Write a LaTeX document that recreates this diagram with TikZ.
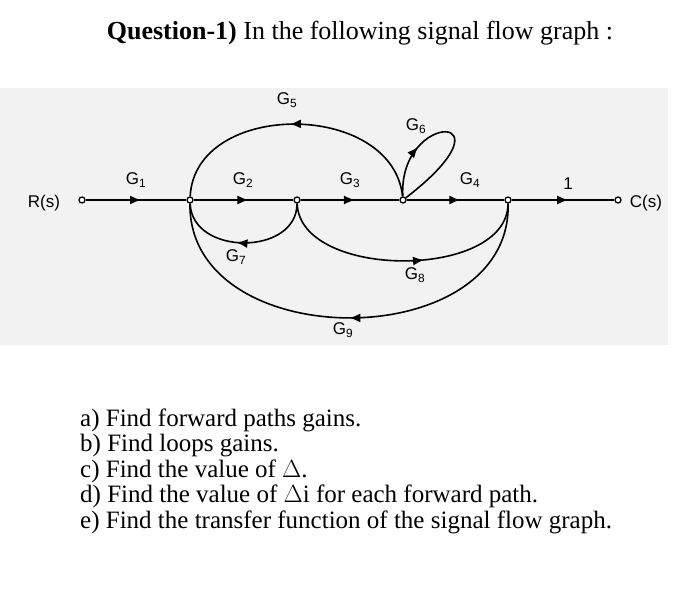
\documentclass[tikz,border=0pt]{standalone}
\usepackage{fontspec}
\setmainfont{Liberation Serif}
\newfontfamily\lsans{Liberation Sans}
\usetikzlibrary{decorations.markings,arrows.meta}
\begin{document}
\begin{tikzpicture}[x=1pt,y=-1pt,
  sig/.style={line width=1.6pt,postaction={decorate},decoration={markings,mark=at position #1 with {\arrow{Latex[length=11pt,width=9pt]}}}},
  sig/.default=0.55,
  nd/.style={circle,draw,line width=1.3pt,fill=white,inner sep=0pt,minimum size=6pt},
  lab/.style={font=\lsans\fontsize{17}{19}\selectfont,inner sep=0pt},
  txt/.style={font=\fontsize{25}{28}\selectfont,anchor=west,inner sep=0pt}]
\useasboundingbox (0,0) rectangle (700,604);
\fill[white] (0,0) rectangle (700,604);
\fill[black!5] (0,88) rectangle (668,345);
\node[font=\fontsize{26}{30}\selectfont,inner sep=0pt] (title) at (360,33) {\textbf{Question-1)} In the following signal flow graph :};
\node[nd] (r) at (82,200) {};
\node[nd] (n1) at (190,200) {};
\node[nd] (n2) at (297,200) {};
\node[nd] (n3) at (403,200) {};
\node[nd] (n4) at (508,200) {};
\node[nd] (c) at (618,200) {};
\draw[sig] (r) -- (n1);
\draw[sig] (n1) -- (n2);
\draw[sig] (n2) -- (n3);
\draw[sig] (n3) -- (n4);
\draw[sig] (n4) -- (c);
\draw[sig=0.52] (n3) .. controls (392,100) and (195,100) .. (n1);
\draw[sig=0.55] (n2) .. controls (297,256) and (192,256) .. (n1);
\draw[sig=0.58] (n2) .. controls (300,280) and (508,280) .. (n4);
\draw[sig=0.5] (n4) .. controls (512,356) and (188,356) .. (n1);
\draw[sig=0.3] (n3) .. controls (398,110) and (520,110) .. (n3);
\node[lab] (lr) at (44,203) {R(s)};
\node[lab] (lc) at (646,203) {C(s)};
\node[lab] (g1) at (136,180) {G\textsubscript{1}};
\node[lab] (g2) at (243,180) {G\textsubscript{2}};
\node[lab] (g3) at (350,180) {G\textsubscript{3}};
\node[lab] (g4) at (470,180) {G\textsubscript{4}};
\node[lab] (g0) at (568,184) {1};
\node[lab] (g5) at (287,100) {G\textsubscript{5}};
\node[lab] (g6) at (416,126) {G\textsubscript{6}};
\node[lab] (g7) at (236,257) {G\textsubscript{7}};
\node[lab] (g8) at (415,275) {G\textsubscript{8}};
\node[lab] (g9) at (343,330) {G\textsubscript{9}};
\node[txt] (ta) at (80,420) {a) Find forward paths gains.};
\node[txt] (tb) at (80,445.5) {b) Find loops gains.};
\node[txt] (tc) at (80,471) {c) Find the value of $\Delta$.};
\node[txt] (td) at (80,496.5) {d) Find the value of $\Delta$i for each forward path.};
\node[txt] (te) at (80,522) {e) Find the transfer function of the signal flow graph.};
\end{tikzpicture}
\end{document}
